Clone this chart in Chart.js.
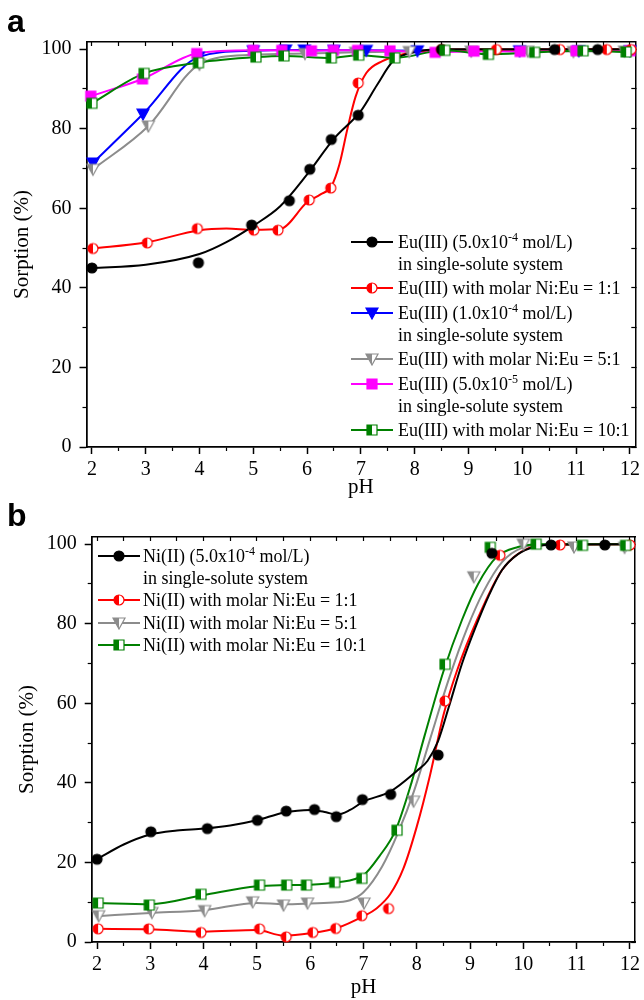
<!DOCTYPE html>
<html>
<head>
<meta charset="utf-8">
<script src="https://cdn.jsdelivr.net/npm/chart.js@4.4.1/dist/chart.umd.min.js"></script>
<style>
  body { margin: 0; background: #fff; }
  #wrap { position: relative; width: 644px; height: 1000px; overflow: hidden; }
  #wrap > canvas { position: absolute; left: 0; }
  #chartA { top: 0; }
  #chartB { top: 500px; }
  .panel { position: absolute; font: bold 32px "Liberation Sans", Arial, sans-serif; line-height: 32px; }
  .legend { position: absolute; font: 18px "Liberation Serif", "Times New Roman", serif; line-height: 22px; color: #000; white-space: nowrap; }
  .item { position: relative; }
  .item canvas { position: absolute; left: 0; top: 4px; }
  sup { font-size: 12px; vertical-align: 0; position: relative; top: -7px; line-height: 0; }
</style>
</head>
<body>
<div id="wrap">
  <canvas id="chartA" width="644" height="500"></canvas>
  <canvas id="chartB" width="644" height="500"></canvas>
  <div class="panel" style="left:7px; top:5px;">a</div>
  <div class="panel" style="left:7px; top:499px;">b</div>
  <div class="legend" id="legendA" style="left:351px; top:228px;"></div>
  <div class="legend" id="legendB" style="left:98px; top:544px;"></div>
</div>
<script>
// ------------ AXES -------------
const xMajor = [2, 3, 4, 5, 6, 7, 8, 9, 10, 11, 12];
const xMinor = [2.5, 3.5, 4.5, 5.5, 6.5, 7.5, 8.5, 9.5, 10.5, 11.5];
const yMajor = [0, 20, 40, 60, 80, 100];
const yMinor = [10, 30, 50, 70, 90];

// ================== PANEL A : Eu(III) ==================
const phA_black = [2.0, 3.98, 4.97, 5.67, 6.05, 6.45, 6.95, 8.5, 10.6, 11.4];
const sorA_black = [45.0, 46.3, 55.8, 61.9, 69.8, 77.3, 83.4, 99.9, 99.9, 99.9];
const phA_blackFit = [2, 3, 4, 4.5, 5, 5.5, 6, 6.5, 7, 7.3, 7.6, 8, 8.5, 12];
const sorA_blackFit = [45, 45.8, 48.5, 51.5, 55.6, 60.5, 68.5, 77.5, 84.5, 91, 97, 99.3, 100, 100];

const phA_red = [2.02, 3.03, 3.96, 5.01, 5.46, 6.04, 6.44, 6.95, 8.5, 9.52, 10.7, 11.57, 12.02];
const sorA_red = [49.9, 51.3, 54.9, 54.5, 54.5, 62.1, 65.1, 91.5, 99.9, 99.9, 99.9, 99.9, 99.9];
const phA_redFit = [2, 3, 4, 4.5, 5, 5.5, 6, 6.25, 6.45, 6.6, 6.75, 6.9, 7.1, 7.4, 7.8, 8.5, 12];
const sorA_redFit = [49.9, 51.4, 54.5, 54.9, 54.6, 54.8, 61.5, 63.5, 65.5, 71, 80, 88, 94, 97, 98.8, 99.9, 100];

const phA_blue = [2.02, 2.95, 3.98, 5.0, 5.6, 5.95, 6.5, 7.1, 8.05, 9.95, 11.05, 12.0];
const sorA_blue = [71.4, 83.7, 98.0, 99.6, 99.8, 99.8, 99.7, 99.7, 99.6, 99.6, 99.6, 99.6];

const phA_gray = [2.02, 3.05, 4.0, 5.0, 5.96, 6.9, 7.9, 9.05, 10.1, 10.95, 11.9];
const sorA_gray = [69.8, 80.7, 96.2, 98.6, 98.9, 99.2, 99.4, 99.5, 99.5, 99.4, 99.5];

const phA_magenta = [1.98, 2.94, 3.95, 5.0, 5.53, 6.08, 6.49, 6.94, 7.54, 8.38, 9.1, 9.96, 11.0, 12.0];
const sorA_magenta = [88.2, 92.5, 98.9, 99.7, 99.7, 99.6, 99.7, 99.7, 99.6, 99.2, 99.5, 99.4, 99.6, 99.6];

const phA_green = [2.0, 2.97, 3.98, 5.05, 5.57, 6.45, 6.96, 7.63, 8.56, 9.37, 10.23, 11.13, 11.93];
const sorA_green = [86.4, 93.9, 96.6, 98.0, 98.3, 97.8, 98.5, 97.8, 99.7, 98.7, 99.2, 99.6, 99.3];

// ================== PANEL B : Ni(II) ==================
const phB_black = [2.0, 3.01, 4.07, 5.01, 5.55, 6.08, 6.49, 6.98, 7.51, 8.4, 9.41, 10.52, 11.53];
const sorB_black = [20.8, 27.7, 28.5, 30.6, 32.9, 33.3, 31.5, 35.8, 37.1, 47.0, 97.7, 99.8, 99.8];
const phB_blackFit = [2, 2.5, 3, 3.5, 4, 4.5, 5, 5.5, 6, 6.3, 6.5, 6.75, 7, 7.5, 8, 8.2, 8.4, 8.6, 8.85, 9.1, 9.35, 9.6, 9.9, 10.2, 10.6, 12];
const sorB_blackFit = [20.8, 24.5, 27, 28, 28.5, 29.3, 30.6, 32.5, 33.2, 32.6, 32, 33.2, 35.3, 37.8, 43, 45.5, 50.5, 59, 70, 79, 87, 93.5, 97.5, 99.3, 99.9, 100];

const phB_red = [2.02, 2.97, 3.95, 5.05, 5.55, 6.05, 6.48, 6.97, 7.47, 8.53, 9.56, 10.69, 12.0];
const sorB_red = [3.3, 3.3, 2.4, 3.3, 1.3, 2.4, 3.4, 6.6, 8.4, 60.6, 97.2, 99.8, 99.8];
const phB_redFit = [2, 3, 4, 5, 5.5, 6, 6.5, 7, 7.25, 7.5, 7.75, 8, 8.25, 8.5, 8.75, 9.15, 9.6, 10.1, 10.6, 12];
const sorB_redFit = [3.3, 3.2, 2.6, 3.0, 1.6, 2.2, 3.5, 6.5, 8.5, 12, 18.5, 29, 42, 57, 68, 81.5, 93.5, 99, 99.9, 100];

const phB_gray = [2.03, 3.03, 4.02, 4.92, 5.5, 5.95, 7.01, 7.94, 9.07, 10.0, 10.95, 11.9];
const sorB_gray = [6.6, 7.4, 7.9, 10.1, 9.3, 9.8, 9.8, 35.4, 91.8, 100, 99.3, 99.2];
const phB_grayFit = [2, 3, 4, 5, 5.5, 6, 6.5, 6.75, 7, 7.35, 7.65, 7.95, 8.25, 8.6, 8.95, 9.25, 9.6, 10, 10.5, 12];
const sorB_grayFit = [6.5, 7.3, 8.0, 9.8, 9.5, 9.7, 10, 10.5, 12.5, 19, 27.5, 38, 51, 66, 79, 88, 95.5, 99.2, 100, 100];

const phB_green = [2.02, 2.98, 3.95, 5.05, 5.56, 5.93, 6.46, 6.97, 7.63, 8.53, 9.38, 10.24, 11.11, 11.92];
const sorB_green = [9.8, 9.3, 12.0, 14.3, 14.3, 14.3, 15.0, 16.0, 28.1, 69.8, 99.2, 100, 99.7, 99.7];
const phB_greenFit = [2, 3, 4, 5, 5.5, 6, 6.5, 7, 7.3, 7.6, 7.9, 8.15, 8.5, 8.85, 9.15, 9.5, 9.9, 10.3, 12];
const sorB_greenFit = [9.8, 9.5, 11.8, 14, 14.3, 14.4, 15, 16.8, 21.6, 28, 40, 52, 68, 81, 90, 96.8, 99.3, 100, 100];

// ------------ LEGEND TEXT -------------
const legendA = [
    ['Eu(III) (5.0x10<sup>-4</sup> mol/L)', 'in single-solute system'],
    ['Eu(III) with molar Ni:Eu = 1:1'],
    ['Eu(III) (1.0x10<sup>-4</sup> mol/L)', 'in single-solute system'],
    ['Eu(III) with molar Ni:Eu = 5:1'],
    ['Eu(III) (5.0x10<sup>-5</sup> mol/L)', 'in single-solute system'],
    ['Eu(III) with molar Ni:Eu = 10:1']
];
const legendB = [
    ['Ni(II) (5.0x10<sup>-4</sup> mol/L)', 'in single-solute system'],
    ['Ni(II) with molar Ni:Eu = 1:1'],
    ['Ni(II) with molar Ni:Eu = 5:1'],
    ['Ni(II) with molar Ni:Eu = 10:1']
];

const BLACK = '#000000', RED = '#ff0000', BLUE = '#0000ff', GRAY = '#8c8c8c', MAGENTA = '#ff00ff', GREEN = '#008000';
const SERIF = '"Liberation Serif", "Times New Roman", serif';

// ================== MARKERS ==================
function shapePath(g, shape) {
    g.beginPath();
    if (shape === 'circle') g.arc(0, 0, 5, 0, Math.PI * 2);
    else if (shape === 'square') g.rect(-5, -5, 10, 10);
    else { g.moveTo(-6, -5); g.lineTo(6, -5); g.lineTo(0, 6); g.closePath(); }
}

function makeMarker(shape, color, half) {
    const c = document.createElement('canvas');
    c.width = 16; c.height = 16;
    const g = c.getContext('2d');
    g.translate(8, 8);
    shapePath(g, shape);
    g.fillStyle = half ? '#fff' : color;
    g.fill();
    if (half) {
        g.save();
        g.beginPath(); g.rect(-8, -8, 8, 16); g.clip();
        shapePath(g, shape);
        g.fillStyle = color; g.fill();
        g.restore();
    }
    shapePath(g, shape);
    g.strokeStyle = color; g.lineWidth = 1.2;
    g.stroke();
    return c;
}

const mk = {
    black: makeMarker('circle', BLACK, false),
    red: makeMarker('circle', RED, true),
    blue: makeMarker('tri', BLUE, false),
    gray: makeMarker('tri', GRAY, true),
    magenta: makeMarker('square', MAGENTA, false),
    green: makeMarker('square', GREEN, true)
};

function pts(xs, ys) { return xs.map((x, i) => ({ x: x, y: ys[i] })); }

function lineSet(xs, ys, color) {
    return {
        data: pts(xs, ys), showLine: true, borderColor: color, borderWidth: 2,
        pointRadius: 0, cubicInterpolationMode: 'monotone', order: 2, clip: false
    };
}

function pointSet(xs, ys, marker) {
    return {
        data: pts(xs, ys), showLine: false, pointStyle: marker, pointRadius: 6,
        order: 1, clip: false
    };
}

// ================== CHART BUILDER ==================
function setTicks(list) {
    return s => { s.ticks = list.map(v => ({ value: v })); };
}

function makeChart(id, datasets, g) {
    const tickFont = { family: SERIF, size: 20 };
    const titleFont = { family: SERIF, size: 21 };
    const border = { color: '#000', width: 1.5 };
    const hidden = { display: false };
    return new Chart(document.getElementById(id), {
        type: 'scatter',
        data: { datasets: datasets },
        options: {
            responsive: false,
            animation: false,
            events: [],
            layout: { padding: { top: g.top, right: g.right, left: 0, bottom: 0 } },
            plugins: { legend: hidden, tooltip: { enabled: false } },
            scales: {
                x: {
                    type: 'linear', position: 'bottom', weight: 1, min: 1.9, max: 12.1,
                    afterBuildTicks: setTicks(xMajor),
                    afterFit: s => { s.height = g.xHeight; },
                    ticks: { font: tickFont, color: '#000', padding: 4, autoSkip: false, maxRotation: 0, callback: v => String(v) },
                    grid: { drawOnChartArea: false, tickLength: 7, tickColor: '#000', tickWidth: 1.5 },
                    border: border,
                    title: { display: true, text: 'pH', font: titleFont, color: '#000', padding: { top: 0, bottom: 0 } }
                },
                xm: {
                    type: 'linear', position: 'bottom', weight: 0, min: 1.9, max: 12.1,
                    afterBuildTicks: setTicks(xMinor),
                    afterFit: s => { s.height = 0; },
                    ticks: hidden,
                    grid: { drawOnChartArea: false, tickLength: 4, tickColor: '#000', tickWidth: 1.2 },
                    border: border
                },
                xt: {
                    type: 'linear', position: 'top', min: 1.9, max: 12.1,
                    afterBuildTicks: setTicks(xMajor.concat(xMinor)),
                    afterFit: s => { s.height = 0; },
                    ticks: hidden,
                    grid: { drawOnChartArea: false, tickLength: -4, tickColor: '#000', tickWidth: 1.2 },
                    border: border
                },
                y: {
                    type: 'linear', position: 'left', weight: 1, min: 0, max: 101.8,
                    afterBuildTicks: setTicks(yMajor),
                    afterFit: s => { s.width = g.yWidth; },
                    ticks: { font: tickFont, color: '#000', padding: 8, autoSkip: false, callback: v => String(v) },
                    grid: { drawOnChartArea: false, tickLength: 7, tickColor: '#000', tickWidth: 1.5 },
                    border: border,
                    title: { display: true, text: 'Sorption (%)', font: titleFont, color: '#000', padding: { top: g.yTitle, bottom: 0 } }
                },
                ym: {
                    type: 'linear', position: 'left', weight: 0, min: 0, max: 101.8,
                    afterBuildTicks: setTicks(yMinor),
                    afterFit: s => { s.width = 0; },
                    ticks: hidden,
                    grid: { drawOnChartArea: false, tickLength: 4, tickColor: '#000', tickWidth: 1.2 },
                    border: border
                },
                yr: {
                    type: 'linear', position: 'right', min: 0, max: 101.8,
                    afterBuildTicks: setTicks(yMajor.concat(yMinor)),
                    afterFit: s => { s.width = 0; },
                    ticks: hidden,
                    grid: { drawOnChartArea: false, tickLength: -4, tickColor: '#000', tickWidth: 1.2 },
                    border: border
                }
            }
        }
    });
}

// ================== LEGENDS ==================
function swatch(color, marker) {
    const c = document.createElement('canvas');
    c.width = 44; c.height = 14;
    const g = c.getContext('2d');
    g.strokeStyle = color; g.lineWidth = 2;
    g.beginPath(); g.moveTo(0, 7); g.lineTo(42, 7); g.stroke();
    g.drawImage(marker, 21 - 8, 7 - 8);
    return c;
}

function buildLegend(id, labels, colors, markers, textLeft, gap) {
    const box = document.getElementById(id);
    labels.forEach((lines, i) => {
        const item = document.createElement('div');
        item.className = 'item';
        item.style.paddingLeft = textLeft + 'px';
        item.style.marginTop = gap + 'px';
        item.innerHTML = lines.join('<br>');
        item.appendChild(swatch(colors[i], markers[i]));
        box.appendChild(item);
    });
}

// ================== DRAW ==================
makeChart('chartA', [
    pointSet(phA_green, sorA_green, mk.green),
    pointSet(phA_black, sorA_black, mk.black),
    pointSet(phA_red, sorA_red, mk.red),
    pointSet(phA_magenta, sorA_magenta, mk.magenta),
    pointSet(phA_gray, sorA_gray, mk.gray),
    pointSet(phA_blue, sorA_blue, mk.blue),
    lineSet(phA_green, sorA_green, GREEN),
    lineSet(phA_blackFit, sorA_blackFit, BLACK),
    lineSet(phA_redFit, sorA_redFit, RED),
    lineSet(phA_magenta, sorA_magenta, MAGENTA),
    lineSet(phA_gray, sorA_gray, GRAY),
    lineSet(phA_blue, sorA_blue, BLUE)
], { top: 42, right: 8, xHeight: 53, yWidth: 86.5, yTitle: 10 });

makeChart('chartB', [
    pointSet(phB_black, sorB_black, mk.black),
    pointSet(phB_green, sorB_green, mk.green),
    pointSet(phB_red, sorB_red, mk.red),
    pointSet(phB_gray, sorB_gray, mk.gray),
    lineSet(phB_blackFit, sorB_blackFit, BLACK),
    lineSet(phB_greenFit, sorB_greenFit, GREEN),
    lineSet(phB_redFit, sorB_redFit, RED),
    lineSet(phB_grayFit, sorB_grayFit, GRAY)
], { top: 37, right: 7, xHeight: 58, yWidth: 91.7, yTitle: 15 });

buildLegend('legendA', legendA,
    [BLACK, RED, BLUE, GRAY, MAGENTA, GREEN],
    [mk.black, mk.red, mk.blue, mk.gray, mk.magenta, mk.green], 47, 2.5);
buildLegend('legendB', legendB,
    [BLACK, RED, GRAY, GREEN],
    [mk.black, mk.red, mk.gray, mk.green], 45, 0.5);
</script>
</body>
</html>
